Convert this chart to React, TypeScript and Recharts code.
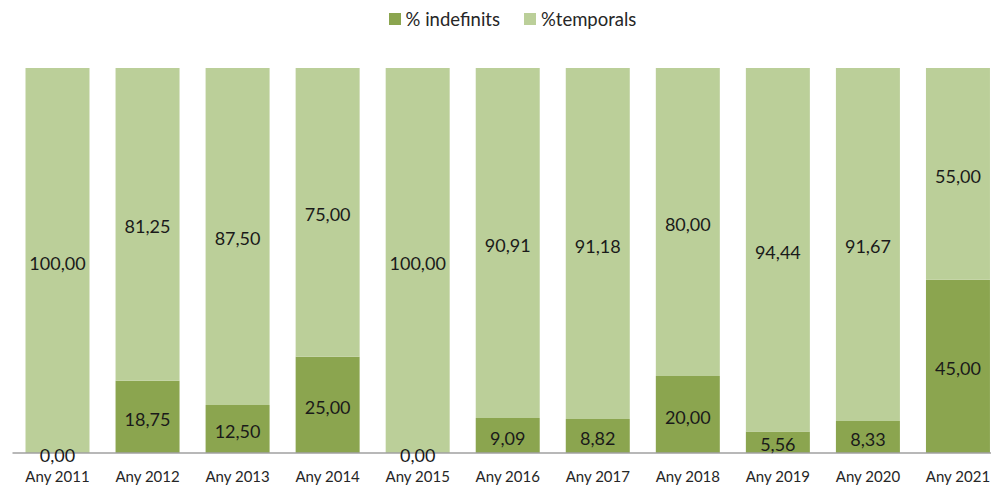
import { BarChart, Bar, XAxis, YAxis, LabelList } from 'recharts';

const years = ['Any 2011', 'Any 2012', 'Any 2013', 'Any 2014', 'Any 2015', 'Any 2016', 'Any 2017', 'Any 2018', 'Any 2019', 'Any 2020', 'Any 2021'];
const indefinits = [0, 18.75, 12.5, 25, 0, 9.09, 8.82, 20, 5.56, 8.33, 45];
const temporals = [100, 81.25, 87.5, 75, 100, 90.91, 91.18, 80, 94.44, 91.67, 55];

const DARK = '#8ba54f';
const LIGHT = '#bbcf99';
const FONT = 'Lato, "Liberation Sans", sans-serif';

const data = years.map((y, i) => ({ year: y, indef: indefinits[i], temp: temporals[i] }));

const fmt = (v: any) => Number(v).toFixed(2).replace('.', ',');

const legendItems = [
  { name: '% indefinits', color: DARK },
  { name: '%temporals', color: LIGHT },
];

const txt = (x: number, y: number, v: any, key?: string) => (
  <text key={key} x={x} y={y} textAnchor="middle" dominantBaseline="central" fill="#1a1a1a" fontSize={18} fontFamily={FONT}>
    {fmt(v)}
  </text>
);

// centred value label
const ValueLabel = (props: any) => {
  const { x, y, width, height, value } = props;
  if (value == null) return null;
  return txt(Number(x) + Number(width) / 2, Number(y) + Number(height) / 2 + 2, value);
};

// top series label; also writes the 0,00 of an empty bottom segment at the base
const TopLabel = (props: any) => {
  const { x, y, width, height, value, index } = props;
  if (value == null) return null;
  const cx = Number(x) + Number(width) / 2;
  const base = Number(y) + Number(height);
  const zero = indefinits[index] === 0;
  return (
    <g>
      {txt(cx, Number(y) + Number(height) / 2 + 2, value, 'v')}
      {zero ? txt(cx, base + 2, 0, 'z') : null}
    </g>
  );
};

const App = () => {
  return (
    <div style={{ position: 'fixed', left: 0, top: 0, width: 991, height: 485, overflow: 'hidden', background: '#fff' }}>
      <div style={{ position: 'absolute', top: 8, left: 0, width: 1025, display: 'flex', justifyContent: 'center', gap: 24, fontFamily: FONT, fontSize: 18.5, color: '#262626' }}>
        {legendItems.map((it) => (
          <div key={it.name} style={{ display: 'flex', alignItems: 'center' }}>
            <span style={{ width: 12, height: 12, background: it.color, marginRight: 5, display: 'inline-block' }} />
            <span>{it.name}</span>
          </div>
        ))}
      </div>
      <BarChart width={1003} height={485} data={data} margin={{ top: 68, right: 0, bottom: 0, left: 12.5 }} barSize={64}>
        <XAxis
          dataKey="year"
          height={32}
          tickLine={false}
          axisLine={{ stroke: '#a0a0a0', strokeWidth: 1.5 }}
          tickMargin={12}
          interval={0}
          tick={{ fill: '#262626', fontSize: 15, fontFamily: FONT }}
        />
        <YAxis hide domain={[0, 100]} />
        <Bar dataKey="indef" name="% indefinits" stackId="a" fill={DARK} isAnimationActive={false}>
          <LabelList dataKey="indef" content={<ValueLabel />} />
        </Bar>
        <Bar dataKey="temp" name="%temporals" stackId="a" fill={LIGHT} isAnimationActive={false}>
          <LabelList dataKey="temp" content={<TopLabel />} />
        </Bar>
      </BarChart>
    </div>
  );
};

export default App;
